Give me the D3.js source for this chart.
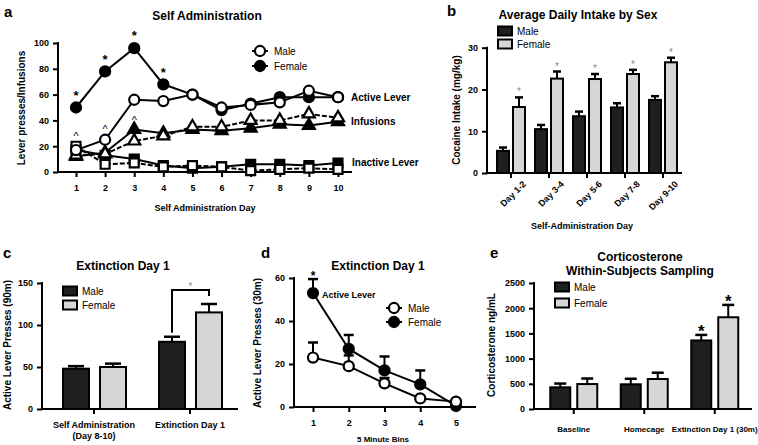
<!DOCTYPE html>
<html>
<head>
<meta charset="utf-8">
<script src="https://cdn.jsdelivr.net/npm/d3@7"></script>
<style>
body { margin: 0; background: #fff; }
svg { font-family: Arial, "Liberation Sans", sans-serif; font-weight: bold; }
</style>
</head>
<body>
<svg width="758" height="445"></svg>
<script>
// ---- panel a: self administration
const saDays = [1, 2, 3, 4, 5, 6, 7, 8, 9, 10];
const activeMale = [17, 25, 56, 55, 60, 50, 52, 54, 63, 58];
const activeFemale = [50, 78, 96, 68, 60, 48, 53, 58, 58, 58];
const infusionsMale = [13, 14, 24, 28, 35, 35, 40, 40, 45, 42];
const infusionsFemale = [12, 15, 33, 30, 33, 32, 34, 37, 36, 39];
const inactiveMale = [20, 6, 7, 4, 5, 4, 1, 2, 3, 2];
const inactiveFemale = [17, 13, 10, 5, 3, 4, 6, 6, 5, 7];
const starDays = [1, 2, 3, 4];
const caretDays = [1, 2, 3];
const caretValues = [29, 34, 41];

// ---- panel b: average daily intake
const intakeDays = ["Day 1-2", "Day 3-4", "Day 5-6", "Day 7-8", "Day 9-10"];
const intakeMale = [5.3, 10.5, 13.6, 15.7, 17.5];
const intakeMaleSem = [0.8, 1.0, 1.1, 1.0, 0.9];
const intakeFemale = [15.8, 22.6, 22.5, 23.7, 26.5];
const intakeFemaleSem = [2.3, 1.7, 1.2, 1.0, 1.1];

// ---- panel c: extinction day 1 totals
const extGroups = ["sa", "ext"];
const extLabels = [["Self Administration", "(Day 8-10)"], ["Extinction Day 1"]];
const extMale = [48, 80];
const extMaleSem = [3, 6];
const extFemale = [50, 115];
const extFemaleSem = [4, 10];

// ---- panel d: 5 minute bins
const bins = [1, 2, 3, 4, 5];
const binMale = [23, 19, 11, 4, 2.5];
const binMaleSem = [7, 5, 2.5, 0, 0];
const binFemale = [53, 27, 17, 10.5, 0.5];
const binFemaleSem = [6.5, 6.5, 6.5, 6.5, 0];

// ---- panel e: corticosterone
const cortGroups = ["Baseline", "Homecage", "Extinction Day 1 (30m)"];
const cortMale = [430, 490, 1360];
const cortMaleSem = [75, 110, 110];
const cortFemale = [495, 595, 1820];
const cortFemaleSem = [110, 125, 245];

const svg = d3.select("svg");
const DARK = "#1f1f1f", LIGHT = "#d6d6d6";

function styleAxis(sel) {
    sel.select(".domain").remove();
    sel.selectAll(".tick line").attr("stroke", "#000").attr("stroke-width", 2);
    sel.selectAll(".tick text").attr("fill", "#000").style("font-size", "9px").style("font-weight", "bold");
}

function yAxis(y, x0, ticks) {
    const g = svg.append("g").attr("transform", `translate(${x0},0)`)
        .call(d3.axisLeft(y).tickValues(ticks).tickFormat(d3.format("d")).tickSize(5).tickPadding(4))
        .call(styleAxis);
    g.append("line").attr("x1", 0).attr("x2", 0)
        .attr("y1", y.range()[0] + 1).attr("y2", y.range()[1] - 1)
        .attr("stroke", "#000").attr("stroke-width", 2);
}

function xAxis(x, y0, x0, x1) {
    const g = svg.append("g").attr("transform", `translate(0,${y0})`)
        .call(d3.axisBottom(x).tickSize(5).tickPadding(8))
        .call(styleAxis);
    g.append("line").attr("x1", x0).attr("x2", x1).attr("y1", 0).attr("y2", 0)
        .attr("stroke", "#000").attr("stroke-width", 2);
    return g;
}

function text(x, y, str, size, opts = {}) {
    return svg.append("text").attr("x", x).attr("y", y)
        .attr("text-anchor", opts.anchor || "middle")
        .style("font-size", size + "px")
        .style("font-weight", opts.weight || "bold")
        .attr("fill", opts.fill || "#000")
        .text(str);
}

function yTitle(x, cy, str) {
    svg.append("text").attr("transform", `translate(${x},${cy}) rotate(-90)`)
        .attr("text-anchor", "middle").style("font-size", "10px").text(str);
}

function errBar(x, yTop, yErr, cap) {
    svg.append("line").attr("x1", x).attr("x2", x).attr("y1", yTop).attr("y2", yErr)
        .attr("stroke", "#000").attr("stroke-width", 2);
    svg.append("line").attr("x1", x - cap).attr("x2", x + cap).attr("y1", yErr).attr("y2", yErr)
        .attr("stroke", "#000").attr("stroke-width", 2.5);
}

function bars(x, y, cats, vals, sems, offset, width, fill, cap) {
    cats.forEach((c, i) => {
        const cx = x(c) + x.bandwidth() / 2 + offset;
        errBar(cx, y(vals[i]), y(vals[i] + sems[i]), cap);
        svg.append("rect").attr("x", cx - width / 2).attr("y", y(vals[i]))
            .attr("width", width).attr("height", y(0) - y(vals[i]))
            .attr("fill", fill).attr("stroke", "#000").attr("stroke-width", 2);
    });
}

function legendBox(x, y, fill, label) {
    svg.append("rect").attr("x", x).attr("y", y - 4.5).attr("width", 14).attr("height", 9)
        .attr("fill", fill).attr("stroke", "#000").attr("stroke-width", 2);
    text(x + 19, y + 4, label, 10, { anchor: "start", weight: "normal" });
}

const symbols = {
    circle: d3.symbol(d3.symbolCircle, 80),
    triangle: d3.symbol(d3.symbolTriangle, 62),
    square: d3.symbol(d3.symbolSquare, 80)
};

function series(x, y, xs, vals, shape, filled, dashed) {
    const pts = xs.map((d, i) => [x(d), y(vals[i])]);
    svg.append("path").attr("d", d3.line()(pts)).attr("fill", "none")
        .attr("stroke", "#000").attr("stroke-width", 2)
        .attr("stroke-dasharray", dashed ? "5,2" : null);
    pts.forEach(p => {
        svg.append("path").attr("d", symbols[shape]())
            .attr("transform", `translate(${p[0]},${p[1]})`)
            .attr("fill", filled ? "#000" : "#fff")
            .attr("stroke", "#000").attr("stroke-width", 2.2);
    });
}

function circleLegend(x, items) {
    items.forEach(([lab, filled, ly]) => {
        svg.append("line").attr("x1", x - 8).attr("x2", x + 8).attr("y1", ly).attr("y2", ly)
            .attr("stroke", "#000").attr("stroke-width", 2);
        svg.append("path").attr("d", symbols.circle()).attr("transform", `translate(${x},${ly})`)
            .attr("fill", filled ? "#000" : "#fff").attr("stroke", "#000").attr("stroke-width", 2.2);
        text(x + 14, ly + 4, lab, 10, { anchor: "start", weight: "normal" });
    });
}

// ================= panel a =================
{
    const x = d3.scaleLinear().domain([1, 10]).range([76, 338]);
    const y = d3.scaleLinear().domain([0, 100]).range([172, 43]);
    yAxis(y, 58, [0, 20, 40, 60, 80, 100]);
    svg.append("g").attr("transform", "translate(0,172)")
        .call(d3.axisBottom(x).tickValues(saDays).tickFormat(d3.format("d")).tickSize(5).tickPadding(8))
        .call(styleAxis)
        .append("line").attr("x1", 58).attr("x2", 352).attr("stroke", "#000").attr("stroke-width", 2);

    series(x, y, saDays, inactiveFemale, "square", true, false);
    series(x, y, saDays, inactiveMale, "square", false, true);
    series(x, y, saDays, infusionsFemale, "triangle", true, false);
    series(x, y, saDays, infusionsMale, "triangle", false, true);
    series(x, y, saDays, activeFemale, "circle", true, false);
    series(x, y, saDays, activeMale, "circle", false, false);

    starDays.forEach(d => text(x(d), y(activeFemale[d - 1] + 6), "*", 13));
    caretDays.forEach((d, i) => text(x(d), y(caretValues[i]) + 5, "^", 11, { weight: "normal" }));

    text(351, 101, "Active Lever", 10, { anchor: "start" });
    text(351, 125, "Infusions", 10, { anchor: "start" });
    text(352, 166, "Inactive Lever", 10, { anchor: "start" });

    circleLegend(260, [["Male", false, 51], ["Female", true, 66]]);

    text(4, 17, "a", 15, { anchor: "start" });
    text(207, 20, "Self Administration", 12);
    yTitle(25, 108, "Lever presses/Infusions");
    text(205, 211, "Self  Administration  Day", 9);
}

// ================= panel b =================
{
    const x = d3.scaleBand().domain(intakeDays).range([492, 682]);
    const y = d3.scaleLinear().domain([0, 30]).range([173, 47.7]);
    yAxis(y, 487, [0, 10, 20, 30]);
    const gx = xAxis(x, 173, 487, 682);
    gx.selectAll(".tick text").attr("text-anchor", "end")
        .attr("transform", "translate(2,-2) rotate(-45)").attr("dx", 0).attr("dy", "0.7em");
    bars(x, y, intakeDays, intakeMale, intakeMaleSem, -8, 12, DARK, 4);
    bars(x, y, intakeDays, intakeFemale, intakeFemaleSem, 8, 12, LIGHT, 4);
    intakeDays.forEach((d, i) => {
        const cx = x(d) + x.bandwidth() / 2 + 8;
        text(cx, y(intakeFemale[i] + intakeFemaleSem[i]) - 2, "*", 10, { fill: "#888", weight: "normal" });
    });
    legendBox(498, 31, DARK, "Male");
    legendBox(498, 44, LIGHT, "Female");
    text(447, 16, "b", 15, { anchor: "start" });
    text(578, 19, "Average Daily Intake by Sex", 12);
    yTitle(460, 110, "Cocaine Intake (mg/kg)");
    text(582, 229, "Self-Administration Day", 9);
}

// ================= panel c =================
{
    const x = d3.scaleBand().domain(extGroups).range([46, 238]);
    const y = d3.scaleLinear().domain([0, 150]).range([409, 283]);
    yAxis(y, 42, [0, 50, 100, 150]);
    const gx = xAxis(x, 409, 42, 238);
    gx.selectAll(".tick text").remove();
    bars(x, y, extGroups, extMale, extMaleSem, -18, 26, DARK, 8);
    bars(x, y, extGroups, extFemale, extFemaleSem, 19, 26, LIGHT, 8);
    extLabels.forEach((lines, i) => {
        lines.forEach((l, j) => text(x(extGroups[i]) + x.bandwidth() / 2, 428 + j * 11, l, 9));
    });
    // significance bracket
    const mx = x("ext") + x.bandwidth() / 2 - 18, fx = x("ext") + x.bandwidth() / 2 + 19;
    svg.append("path").attr("d", `M${mx},${y(extMale[1] + extMaleSem[1]) - 4}V290H${fx}V296`)
        .attr("fill", "none").attr("stroke", "#000").attr("stroke-width", 2);
    text((mx + fx) / 2, 290, "*", 10, { fill: "#888", weight: "normal" });
    legendBox(63, 291, DARK, "Male");
    legendBox(63, 305, LIGHT, "Female");
    text(3, 258, "c", 15, { anchor: "start" });
    text(123, 270, "Extinction Day 1", 12);
    yTitle(11, 345, "Active Lever Presses (90m)");
}

// ================= panel d =================
{
    const x = d3.scaleLinear().domain([1, 5]).range([313, 456]);
    const y = d3.scaleLinear().domain([0, 60]).range([407, 278]);
    yAxis(y, 294, [0, 20, 40, 60]);
    svg.append("g").attr("transform", "translate(0,407)")
        .call(d3.axisBottom(x).tickValues(bins).tickFormat(d3.format("d")).tickSize(5).tickPadding(8))
        .call(styleAxis)
        .append("line").attr("x1", 294).attr("x2", 476).attr("stroke", "#000").attr("stroke-width", 2);
    bins.forEach((b, i) => {
        if (binFemaleSem[i] > 0) errBar(x(b), y(binFemale[i]), y(binFemale[i] + binFemaleSem[i]), 5);
        if (binMaleSem[i] > 0) errBar(x(b), y(binMale[i]), y(binMale[i] + binMaleSem[i]), 5);
    });
    series(x, y, bins, binFemale, "circle", true, false);
    series(x, y, bins, binMale, "circle", false, false);
    text(x(1), 280, "*", 12);
    text(322, 298, "Active Lever", 9, { anchor: "start" });
    circleLegend(394, [["Male", false, 308], ["Female", true, 322]]);
    text(261, 258, "d", 15, { anchor: "start" });
    text(378, 270, "Extinction Day 1", 12);
    yTitle(261, 343, "Active Lever Presses (30m)");
    text(383, 442, "5 Minute Bins", 8);
}

// ================= panel e =================
{
    const x = d3.scaleBand().domain(cortGroups).range([538.5, 750]);
    const y = d3.scaleLinear().domain([0, 2500]).range([409, 283]);
    yAxis(y, 534, [0, 500, 1000, 1500, 2000, 2500]);
    const gx = xAxis(x, 409, 534, 752);
    gx.selectAll(".tick text").style("font-size", "8px").attr("dy", "1.2em");
    bars(x, y, cortGroups, cortMale, cortMaleSem, -13.5, 20, DARK, 6);
    bars(x, y, cortGroups, cortFemale, cortFemaleSem, 13.5, 20, LIGHT, 6);
    const ec = x(cortGroups[2]) + x.bandwidth() / 2;
    text(ec - 13.5, y(cortMale[2] + cortMaleSem[2]) + 2, "*", 17);
    text(ec + 13.5, y(cortFemale[2] + cortFemaleSem[2]) + 2, "*", 17);
    legendBox(555, 287, DARK, "Male");
    legendBox(555, 303, LIGHT, "Female");
    text(490, 258, "e", 15, { anchor: "start" });
    text(640, 261, "Corticosterone", 12);
    text(640, 275, "Within-Subjects  Sampling", 12);
    yTitle(495, 345, "Corticosterone ng/mL");
}
</script>
</body>
</html>
